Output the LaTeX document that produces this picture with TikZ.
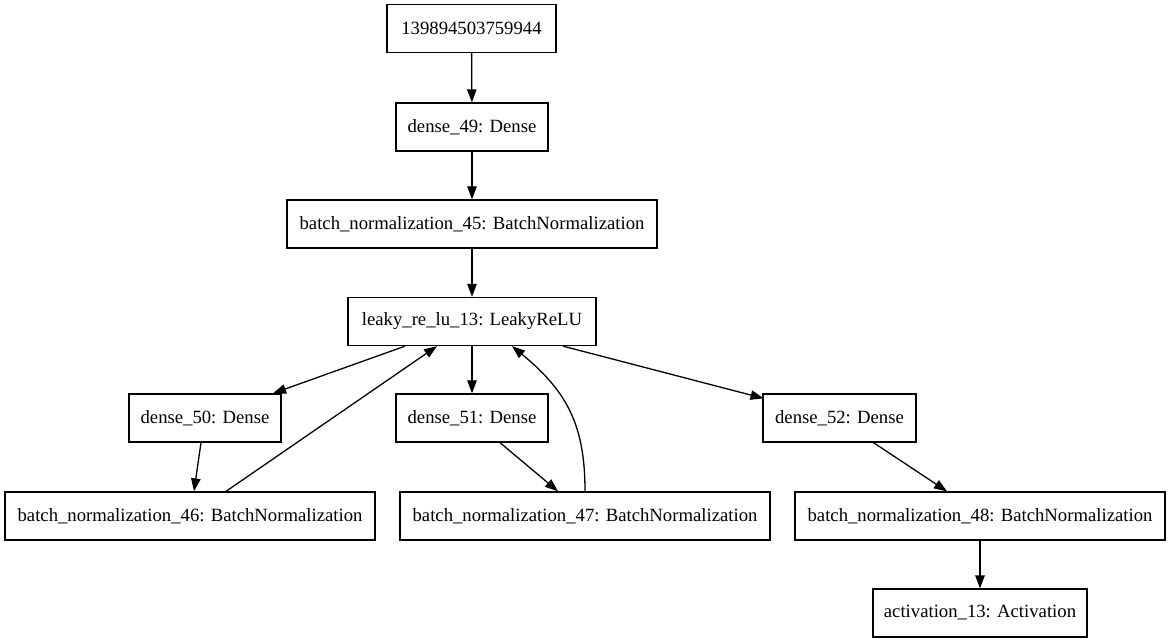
\documentclass[tikz,border=0pt]{standalone}
\usepackage{fontspec}
\setmainfont{Liberation Serif}
\usetikzlibrary{arrows.meta}

\begin{document}
\begin{tikzpicture}[
    x=1pt, y=-1pt,
    font=\fontsize{18.7pt}{22pt}\selectfont,
    layer/.style={draw, line width=1.3pt, minimum height=48pt, inner sep=0pt, fill=white},
    edge/.style={line width=1.3pt, -{Triangle[length=13pt, width=9.5pt]}},
    >=Stealth]

    \useasboundingbox (0,0) rectangle (1171,644);

    % hlavni vetev
    \node[layer, minimum width=169pt] (vstup) at (471.5,28.5) {139894503759944};
    \node[layer, minimum width=152pt] (dense49) at (472,127) {dense\_49: Dense};
    \node[layer, minimum width=370pt] (bn45) at (472,224) {batch\_normalization\_45: BatchNormalization};
    \node[layer, minimum width=248pt] (leaky) at (472,321.5) {leaky\_re\_lu\_13: LeakyReLU};

    % vrstvy dense
    \node[layer, minimum width=152pt] (dense50) at (205,418) {dense\_50: Dense};
    \node[layer, minimum width=152pt] (dense51) at (472,418) {dense\_51: Dense};
    \node[layer, minimum width=153pt] (dense52) at (839.5,418) {dense\_52: Dense};

    % normalizace
    \node[layer, minimum width=370pt] (bn46) at (190,516) {batch\_normalization\_46: BatchNormalization};
    \node[layer, minimum width=370pt] (bn47) at (585,516) {batch\_normalization\_47: BatchNormalization};
    \node[layer, minimum width=370pt] (bn48) at (980,516) {batch\_normalization\_48: BatchNormalization};
    \node[layer, minimum width=214pt] (akt) at (980,613) {activation\_13: Activation};

    % spoje
    \draw[edge] (vstup) -- (dense49);
    \draw[edge] (dense49) -- (bn45);
    \draw[edge] (bn45) -- (leaky);
    \draw[edge] ([xshift=-67pt]leaky.south) -- ([xshift=68pt]dense50.north);
    \draw[edge] (leaky) -- (dense51);
    \draw[edge] ([xshift=91pt]leaky.south) -- ([xshift=-76pt, yshift=-5pt]dense52.north);
    \draw[edge] ([xshift=-4pt]dense50.south) -- ([xshift=4pt]bn46.north);
    \draw[edge] ([xshift=28pt]dense51.south) -- ([xshift=-27pt]bn47.north);
    \draw[edge] ([xshift=34pt]dense52.south) -- ([xshift=-33pt]bn48.north);
    \draw[edge] (bn48) -- (akt);

    % navraty do leaky_re_lu
    \draw[edge] ([xshift=36pt]bn46.north) -- ([xshift=-35pt]leaky.south);
    \draw[edge] (bn47.north) .. controls ([yshift=65pt]bn47.north) and (568,392) .. ([xshift=40pt]leaky.south);
\end{tikzpicture}
\end{document}
